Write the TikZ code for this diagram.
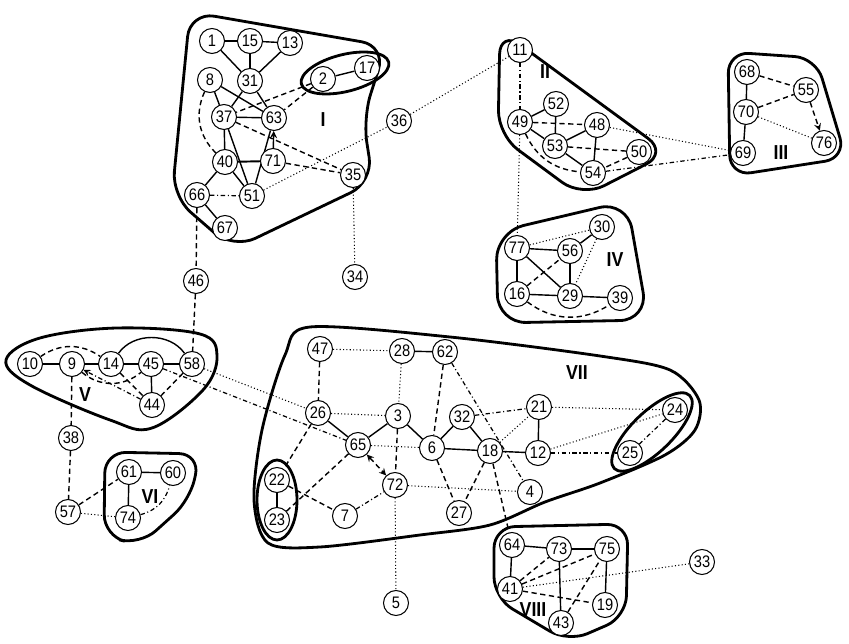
\documentclass[tikz,border=0pt]{standalone}
\usepackage{fontspec}
\setmainfont{Liberation Sans}
\newfontfamily\numfont{Liberation Sans}[FakeStretch=0.88]
\usetikzlibrary{backgrounds}
\begin{document}
\begin{tikzpicture}[x=0.02cm, y=-0.02cm, >=stealth,
  vtx/.style={draw, circle, fill=white, line width=0.6pt, minimum size=0.5cm, inner sep=0pt, font=\numfont\fontsize{9.5}{10}\selectfont},
  grp/.style={font=\numfont\bfseries\fontsize{11.5}{12}\selectfont},
  hull/.style={line width=1.6pt, line join=round},
  sl/.style={line width=0.8pt},
  ds/.style={line width=0.8pt, dash pattern=on 3pt off 2pt},
  dt/.style={line width=0.6pt, dash pattern=on 0.6pt off 1.3pt},
  dd/.style={line width=0.7pt, dash pattern=on 2.5pt off 1.5pt on 0.6pt off 1.5pt}]
\useasboundingbox (0,0) rectangle (849,644);

% group I
\node[vtx] (n1) at (212,41) {1};
\node[vtx] (n15) at (250,41) {15};
\node[vtx] (n13) at (290,43) {13};
\node[vtx] (n8) at (210,80) {8};
\node[vtx] (n31) at (250,81) {31};
\node[vtx] (n2) at (323,79) {2};
\node[vtx] (n17) at (367,68) {17};
\node[vtx] (n37) at (224,117) {37};
\node[vtx] (n63) at (274,118) {63};
\node[vtx] (n40) at (225,162) {40};
\node[vtx] (n71) at (273,161) {71};
\node[vtx] (n35) at (353,175) {35};
\node[vtx] (n66) at (197,195) {66};
\node[vtx] (n51) at (252,196) {51};
\node[vtx] (n67) at (225,228) {67};
\node[vtx] (n36) at (399,121) {36};
\node[vtx] (n34) at (355,277) {34};
\node[vtx] (n46) at (196,281) {46};
\node[grp] (gI) at (323,120) {I};

% group II
\node[vtx] (n11) at (520,50) {11};
\node[vtx] (n52) at (556,104) {52};
\node[vtx] (n49) at (520,122) {49};
\node[vtx] (n48) at (597,125) {48};
\node[vtx] (n53) at (555,146) {53};
\node[vtx] (n50) at (639,152) {50};
\node[vtx] (n54) at (593,173) {54};
\node[grp] (gII) at (545,72) {II};

% group III
\node[vtx] (n68) at (747,72) {68};
\node[vtx] (n55) at (806,90) {55};
\node[vtx] (n70) at (746,112) {70};
\node[vtx] (n76) at (824,143) {76};
\node[vtx] (n69) at (743,153) {69};
\node[grp] (gIII) at (781,153) {III};

% group IV
\node[vtx] (n77) at (517,248) {77};
\node[vtx] (n56) at (570,251) {56};
\node[vtx] (n30) at (602,227) {30};
\node[vtx] (n16) at (517,294) {16};
\node[vtx] (n29) at (570,296) {29};
\node[vtx] (n39) at (620,298) {39};
\node[grp] (gIV) at (615,260) {IV};

% group V
\node[vtx] (n10) at (30,364) {10};
\node[vtx] (n9) at (72,364) {9};
\node[vtx] (n14) at (111,364) {14};
\node[vtx] (n45) at (151,364) {45};
\node[vtx] (n58) at (192,364) {58};
\node[vtx] (n44) at (152,405) {44};
\node[grp] (gV) at (85,395) {V};
\node[vtx] (n38) at (71,438) {38};
\node[vtx] (n57) at (68,512) {57};

% group VI
\node[vtx] (n61) at (129,472) {61};
\node[vtx] (n60) at (173,473) {60};
\node[vtx] (n74) at (128,518) {74};
\node[grp] (gVI) at (150,497) {VI};

% group VII
\node[vtx] (n47) at (320,349) {47};
\node[vtx] (n28) at (402,351) {28};
\node[vtx] (n62) at (445,352) {62};
\node[vtx] (n26) at (318,413) {26};
\node[vtx] (n3) at (398,416) {3};
\node[vtx] (n32) at (462,417) {32};
\node[vtx] (n21) at (539,407) {21};
\node[vtx] (n65) at (358,445) {65};
\node[vtx] (n6) at (432,448) {6};
\node[vtx] (n18) at (490,451) {18};
\node[vtx] (n12) at (538,453) {12};
\node[vtx] (n22) at (277,480) {22};
\node[vtx] (n23) at (277,520) {23};
\node[vtx] (n72) at (395,485) {72};
\node[vtx] (n4) at (530,492) {4};
\node[vtx] (n7) at (345,516) {7};
\node[vtx] (n27) at (459,513) {27};
\node[vtx] (n24) at (675,410) {24};
\node[vtx] (n25) at (630,453) {25};
\node[vtx] (n5) at (396,603) {5};
\node[grp] (gVII) at (577,373) {VII};

% group VIII
\node[vtx] (n64) at (512,545) {64};
\node[vtx] (n73) at (559,549) {73};
\node[vtx] (n75) at (607,549) {75};
\node[vtx] (n41) at (510,589) {41};
\node[vtx] (n19) at (605,605) {19};
\node[vtx] (n43) at (561,623) {43};
\node[vtx] (n33) at (702,562) {33};
\node[grp] (gVIII) at (533,610) {VIII};

\begin{scope}[on background layer]
% outlines
\draw[hull, rounded corners=14pt] (190,12) -- (386,46) -- (363,118) -- (373,182) -- (233,249) -- (172,196) -- cycle;
\draw[hull] (345,73) ellipse [x radius=0.9cm, y radius=0.37cm, rotate=14];
\draw[hull, rounded corners=14pt] (500,30) -- (668,153) -- (582,197) -- (498,135) -- cycle;
\draw[hull, rounded corners=12pt] (728,52) -- (816,58) -- (846,158) -- (730,176) -- cycle;
\draw[hull, rounded corners=16pt] (496,232) -- (627,201) -- (648,320) -- (498,323) -- cycle;
\draw[hull] plot[smooth cycle, tension=0.6] coordinates {(6,360) (40,338) (117,328) (200,334) (217,356) (203,390) (152,428) (110,420) (30,385)};
\draw[hull, rounded corners=12pt] (105,452) -- (200,454) -- (190,500) -- (140,545) -- (104,536) -- cycle;
\draw[hull] plot[smooth cycle] coordinates {(268,543) (254,500) (262,430) (285,355) (310,327) (450,337) (600,356) (670,370) (699,400) (695,430) (665,455) (600,483) (545,502) (490,525) (420,535) (320,547)};
\draw[hull] (277,500) ellipse [x radius=0.4cm, y radius=0.8cm];
\draw[hull] (652,432) ellipse [x radius=1.05cm, y radius=0.4cm, rotate=44];
\draw[hull, rounded corners=12pt] (494,527) -- (628,524) -- (626,617) -- (568,642) -- (494,598) -- cycle;

% group I edges
\draw[sl] (n1) -- (n15);
\draw[sl] (n15) -- (n13);
\draw[sl] (n1) -- (n31);
\draw[sl] (n15) -- (n31);
\draw[sl] (n13) -- (n31);
\draw[sl] (n8) -- (n37);
\draw[sl] (n8) -- (n63);
\draw[sl] (n31) -- (n37);
\draw[sl] (n31) -- (n63);
\draw[sl] (n37) -- (n63);
\draw[sl] (n2) -- (n17);
\draw[ds] (n2) -- (n37);
\draw[ds] (n2) -- (n63);
\draw[ds] (n8) to[bend right=35] (n40);
\draw[sl] (n37) -- (n40);
\draw[sl] (n37) -- (n51);
\draw[ds] (n37) -- (n35);
\draw[sl, ->] (n71) -- (n63);
\draw[sl] (n63) -- (n51);
\draw[sl, line width=1.1pt] (n40) -- (n71);
\draw[sl] (n40) -- (n51);
\draw[sl] (n40) -- (n66);
\draw[dd] (n66) -- (n51);
\draw[sl] (n66) -- (n67);
\draw[ds] (n71) -- (n35);
\draw[dt] (n51) -- (n36);
\draw[dt] (n36) -- (n11);
\draw[dt] (n35) -- (n34);
\draw[ds] (n66) -- (n46);
\draw[ds] (n46) -- (n58);

% group II edges
\draw[dd] (n11) -- (n49);
\draw[sl] (n49) -- (n52);
\draw[sl] (n49) -- (n53);
\draw[sl] (n52) -- (n53);
\draw[ds] (n49) -- (n48);
\draw[sl] (n53) -- (n48);
\draw[ds] (n53) -- (n50);
\draw[sl] (n53) -- (n54);
\draw[sl] (n48) -- (n54);
\draw[ds] (n49) to[bend right=30] (n54);
\draw[ds] (n50) -- (n54);
\draw[dt] (n48) -- (n69);
\draw[dd] (n54) -- (n69);
\draw[dt] (n49) -- (n77);

% group III edges
\draw[sl] (n68) -- (n70);
\draw[sl] (n70) -- (n69);
\draw[ds] (n68) -- (n55);
\draw[ds] (n70) -- (n55);
\draw[ds, ->] (n55) -- (n76);
\draw[dt] (n70) -- (n76);

% group IV edges
\draw[sl] (n77) -- (n56);
\draw[sl] (n77) -- (n16);
\draw[sl] (n77) -- (n29);
\draw[ds] (n16) -- (n56);
\draw[sl] (n16) -- (n29);
\draw[sl] (n56) -- (n29);
\draw[sl] (n56) -- (n30);
\draw[dt] (n77) -- (n30);
\draw[dt] (n30) -- (n29);
\draw[sl] (n29) -- (n39);
\draw[ds] (n16) to[bend right=35] (n39);

% group V and VI edges
\draw[sl] (n10) -- (n9);
\draw[sl] (n9) -- (n14);
\draw[sl] (n14) -- (n45);
\draw[sl] (n45) -- (n58);
\draw[sl] (n45) -- (n44);
\draw[ds] (n10) to[bend left=35] (n14);
\draw[sl] (n14) to[bend left=55] (n58);
\draw[ds] (n14) -- (n44);
\draw[ds] (n9) to[bend right=40] (n45);
\draw[dd, ->] (n44) -- (n9);
\draw[ds] (n58) -- (n44);
\draw[dt] (n58) -- (n26);
\draw[dd] (n45) -- (n65);
\draw[ds] (n9) -- (n38);
\draw[ds] (n38) -- (n57);
\draw[sl] (n61) -- (n60);
\draw[sl] (n61) -- (n74);
\draw[dd] (n74) to[bend right=30] (n60);
\draw[ds] (n57) -- (n61);
\draw[dt] (n57) -- (n74);

% group VII edges
\draw[dt] (n47) -- (n28);
\draw[sl] (n28) -- (n62);
\draw[ds] (n47) -- (n26);
\draw[dt] (n28) -- (n3);
\draw[ds] (n62) -- (n6);
\draw[dd] (n62) -- (n4);
\draw[sl] (n26) -- (n65);
\draw[sl] (n65) -- (n3);
\draw[sl] (n3) -- (n6);
\draw[sl] (n6) -- (n32);
\draw[sl] (n32) -- (n18);
\draw[sl] (n6) -- (n18);
\draw[sl] (n18) -- (n12);
\draw[sl] (n21) -- (n12);
\draw[dt] (n26) -- (n3);
\draw[dt] (n65) -- (n6);
\draw[ds] (n3) -- (n72);
\draw[ds, <->] (n65) -- (n72);
\draw[ds] (n26) -- (n22);
\draw[ds] (n65) -- (n23);
\draw[ds] (n22) -- (n7);
\draw[dd] (n7) -- (n72);
\draw[sl] (n22) -- (n23);
\draw[dt] (n72) -- (n4);
\draw[ds] (n6) -- (n27);
\draw[ds] (n18) -- (n27);
\draw[ds] (n18) -- (n64);
\draw[dd] (n32) -- (n21);
\draw[dt] (n18) -- (n21);
\draw[dt] (n21) -- (n24);
\draw[dt] (n12) -- (n24);
\draw[dd] (n12) -- (n25);
\draw[dd] (n24) -- (n25);
\draw[dt] (n72) -- (n5);

% group VIII edges
\draw[sl] (n64) -- (n73);
\draw[sl] (n73) -- (n75);
\draw[sl] (n64) -- (n41);
\draw[sl] (n73) -- (n43);
\draw[sl] (n75) -- (n19);
\draw[ds] (n41) -- (n73);
\draw[ds] (n41) -- (n75);
\draw[ds] (n41) -- (n19);
\draw[ds] (n43) -- (n75);
\draw[dt] (n41) -- (n33);
\end{scope}
\end{tikzpicture}
\end{document}
